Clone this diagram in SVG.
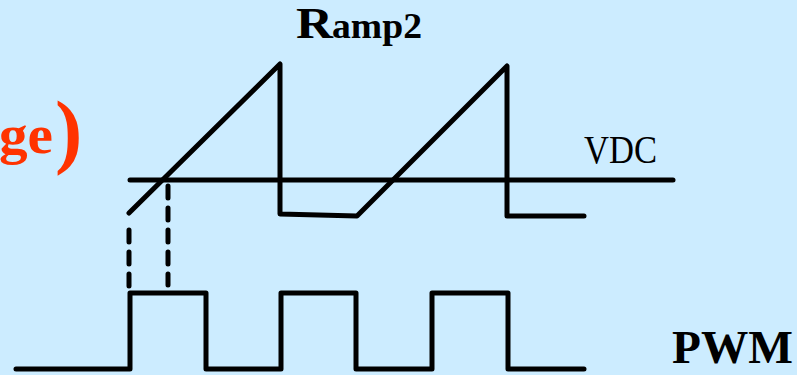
<svg xmlns="http://www.w3.org/2000/svg" width="797" height="375" viewBox="0 0 797 375">
  <style>
    .wave { fill: none; stroke: #000; stroke-width: 5; stroke-linecap: round; stroke-linejoin: round; }
    .dash { fill: none; stroke: #000; stroke-width: 5; stroke-linecap: round; stroke-dasharray: 12 10; }
    .lbl { font-family: "Liberation Serif", "Times New Roman", serif; fill: #000; }
    .bold { font-weight: bold; }
    .accent { font-family: "Liberation Serif", "Times New Roman", serif; font-weight: bold; fill: #FF3300; }
  </style>
  <rect x="0" y="0" width="797" height="375" fill="#CCECFF"/>

  <g id="title-tail">
    <text class="accent" x="-1" y="153" font-size="54" textLength="54" lengthAdjust="spacingAndGlyphs">ge</text>
    <text class="accent" x="55" y="158" font-size="82" font-weight="normal">)</text>
  </g>

  <g id="ramp-label">
    <text class="lbl bold" x="296" y="38" font-size="44" textLength="37" lengthAdjust="spacingAndGlyphs">R</text>
    <text class="lbl bold" x="332" y="38" font-size="36" textLength="90" lengthAdjust="spacingAndGlyphs">amp2</text>
  </g>

  <g id="vdc-label">
    <text class="lbl" x="584" y="163" font-size="40" textLength="73" lengthAdjust="spacingAndGlyphs">VDC</text>
  </g>

  <g id="pwm-label">
    <text class="lbl bold" x="672" y="363" font-size="46" textLength="121" lengthAdjust="spacingAndGlyphs">PWM</text>
  </g>

  <g id="connectors">
    <!-- DC reference level -->
    <line class="wave" x1="130" y1="180" x2="673" y2="180"/>
    <!-- sawtooth ramp -->
    <polyline class="wave" points="129,213 280,64 280,214 357,216 507,66 507,216 584,216"/>
    <!-- crossing projections -->
    <line class="dash" x1="129" y1="230" x2="129" y2="288"/>
    <line class="dash" x1="168" y1="186" x2="168" y2="285"/>
    <!-- PWM output -->
    <polyline class="wave" points="16,369 130,369 130,293 206,293 206,369 281,369 281,293 356,293 356,369 432,369 432,293 508,293 508,369 584,369"/>
  </g>
</svg>
